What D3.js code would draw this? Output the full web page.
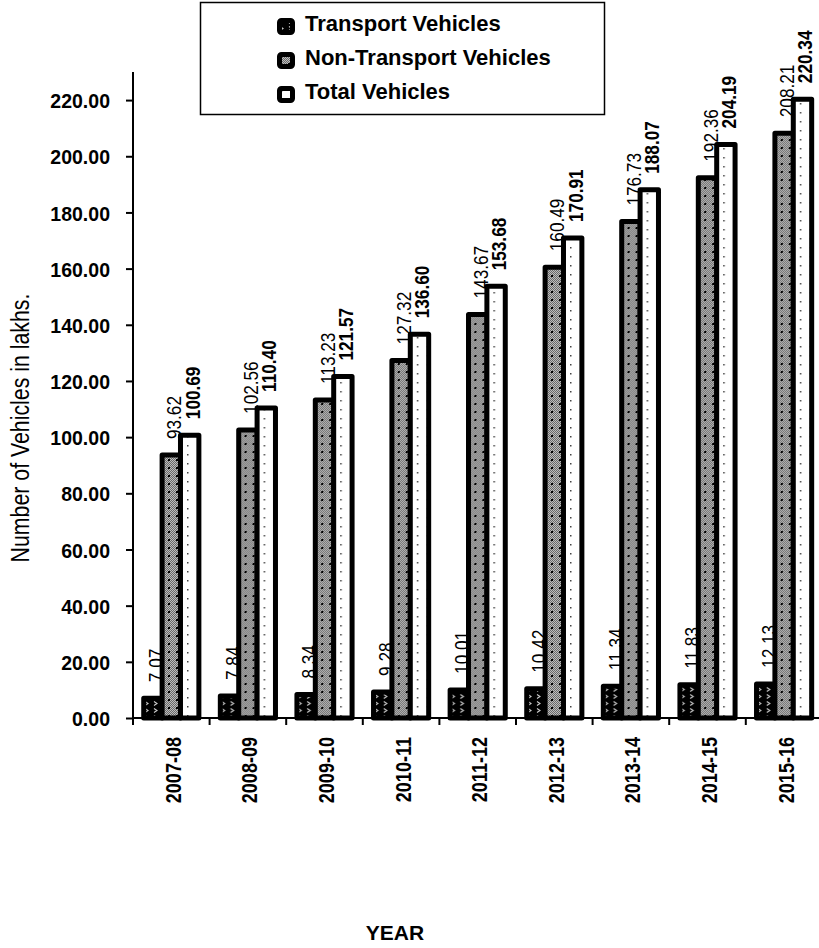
<!DOCTYPE html>
<html>
<head>
<meta charset="utf-8">
<script src="https://cdnjs.cloudflare.com/ajax/libs/d3/7.8.5/d3.min.js"></script>
<style>
  body { margin: 0; background: #fff; }
  svg { display: block; }
  text { font-family: "Liberation Sans", Arial, sans-serif; fill: #000; }
</style>
</head>
<body>
<script>

var years = ["2007-08", "2008-09", "2009-10", "2010-11", "2011-12", "2012-13", "2013-14", "2014-15", "2015-16"]
var transport = [7.07, 7.84, 8.34, 9.28, 10.01, 10.42, 11.34, 11.83, 12.13]
var nonTransport = [93.62, 102.56, 113.23, 127.32, 143.67, 160.49, 176.73, 192.36, 208.21]
var total = [100.69, 110.40, 121.57, 136.60, 153.68, 170.91, 188.07, 204.19, 220.34]
var yTicks = [0, 20, 40, 60, 80, 100, 120, 140, 160, 180, 200, 220]
var seriesNames = ["Transport Vehicles", "Non-Transport Vehicles", "Total Vehicles"]

var win_width = 819;
var win_height = 948;

var margin_left = 133;
var margin_top = 72;
var axis_y = 718;
var band = 76.6;

// squeeze factor to get a narrow face out of Liberation Sans
var narrow = 0.82;

var svg = d3.select("body").append("svg")
    .attr("width", win_width)
    .attr("height", win_height);

var fmt = d3.format(".2f");

var series = [
    {name: seriesNames[0], values: transport, fill: "url(#pat-trans)", bold: false},
    {name: seriesNames[1], values: nonTransport, fill: "url(#pat-non)", bold: false},
    {name: seriesNames[2], values: total, fill: "url(#pat-total)", bold: true}
];

function patterns() {
    var defs = svg.append("defs");

    // transport: black with little white marks
    var p1 = defs.append("pattern").attr("id", "pat-trans")
        .attr("patternUnits", "userSpaceOnUse").attr("width", 9).attr("height", 7);
    p1.append("rect").attr("width", 9).attr("height", 7).attr("fill", "#000");
    p1.append("path").attr("d", "M3,1.5 L6,3.5 L3,5.5").attr("stroke", "#ccc").attr("stroke-width", 1.1).attr("fill", "none");

    // non transport: grey checker with black dots
    var p2 = defs.append("pattern").attr("id", "pat-non")
        .attr("patternUnits", "userSpaceOnUse").attr("width", 8).attr("height", 8);
    p2.append("rect").attr("width", 8).attr("height", 8).attr("fill", "#bdbdbd");
    for (var i = 0; i < 8; i += 2) {
        for (var j = 0; j < 8; j++) {
            p2.append("rect").attr("x", i + (j % 2)).attr("y", j).attr("width", 1).attr("height", 1).attr("fill", "#6a6a6a");
        }
    }
    p2.append("rect").attr("x", 3).attr("y", 3).attr("width", 2).attr("height", 2).attr("fill", "#000");

    // total: white with sparse dots
    var p3 = defs.append("pattern").attr("id", "pat-total")
        .attr("patternUnits", "userSpaceOnUse").attr("width", 10).attr("height", 9);
    p3.append("rect").attr("width", 10).attr("height", 9).attr("fill", "#fff");
    p3.append("rect").attr("x", 4).attr("y", 4).attr("width", 1.5).attr("height", 1.5).attr("fill", "#444");
}

var xScale = d3.scaleBand().domain(years).range([margin_left, margin_left + years.length * band]);
var xInner = d3.scaleBand().domain(seriesNames)
    .range([xScale.bandwidth() * 0.14, xScale.bandwidth() * 0.86]);
var yScale = d3.scaleLinear().domain([0, 230]).range([axis_y, margin_top]);

function drawBars() {
    var groups = svg.append("g").selectAll("g")
        .data(years)
        .enter().append("g")
        .attr("transform", d => "translate(" + xScale(d) + ",0)");

    groups.selectAll("rect")
        .data((d, i) => series.map(s => ({s: s, v: s.values[i]})))
        .enter().append("rect")
        .attr("x", d => xInner(d.s.name))
        .attr("width", xInner.bandwidth())
        .attr("y", d => yScale(d.v))
        .attr("height", d => axis_y - yScale(d.v))
        .attr("fill", d => d.s.fill)
        .attr("stroke", "#000")
        .attr("stroke-width", 5)
        .attr("stroke-linejoin", "round");

    groups.selectAll("text")
        .data((d, i) => series.map(s => ({s: s, v: s.values[i]})))
        .enter().append("text")
        .attr("transform", d => "translate(" + (xInner(d.s.name) + xInner.bandwidth() / 2 + 10) + "," + (yScale(d.v) - 16) + ") rotate(-90) scale(" + narrow + ",1)")
        .style("font-size", "21px")
        .style("font-weight", d => d.s.bold ? "bold" : "normal")
        .text(d => fmt(d.v));
}

function drawAxis() {
    var yAxis = d3.axisLeft(yScale)
        .tickValues(yTicks)
        .tickFormat(fmt)
        .tickSizeOuter(0)
        .tickSize(7);

    var gy = svg.append("g")
        .attr("transform", "translate(" + margin_left + ",0)")
        .call(yAxis);
    gy.select(".domain").remove();
    gy.append("line")
        .attr("x1", 0).attr("x2", 0)
        .attr("y1", margin_top).attr("y2", axis_y + 7)
        .attr("stroke", "#000").attr("stroke-width", 2);
    gy.selectAll(".tick line").attr("stroke-width", 2);
    gy.selectAll(".tick text")
        .attr("x", 0)
        .attr("dy", "0.36em")
        .attr("transform", "translate(-23,0) scale(0.93,1)")
        .style("font-size", "21px")
        .style("font-weight", "bold")
        .attr("fill", "#000");

    // x axis: ticks between categories
    var gx = svg.append("g");
    gx.append("line")
        .attr("x1", margin_left).attr("x2", win_width)
        .attr("y1", axis_y).attr("y2", axis_y)
        .attr("stroke", "#000").attr("stroke-width", 2);
    gx.selectAll(".sep")
        .data(years)
        .enter().append("line")
        .attr("x1", d => xScale(d)).attr("x2", d => xScale(d))
        .attr("y1", axis_y).attr("y2", axis_y + 7)
        .attr("stroke", "#000").attr("stroke-width", 2);
    gx.selectAll(".lbl")
        .data(years)
        .enter().append("text")
        .attr("transform", d => "translate(" + (xScale(d) + xScale.bandwidth() / 2 + 9.5) + "," + (axis_y + 19) + ") rotate(-90) scale(" + narrow + ",1)")
        .attr("text-anchor", "end")
        .style("font-size", "22px")
        .style("font-weight", "bold")
        .text(d => d);

    svg.append("text")
        .attr("transform", "translate(29,428) rotate(-90) scale(" + narrow + ",1)")
        .attr("text-anchor", "middle")
        .style("font-size", "26px")
        .text("Number of Vehicles in lakhs.");

    svg.append("text")
        .attr("x", 395)
        .attr("y", 940)
        .attr("text-anchor", "middle")
        .style("font-size", "21px")
        .style("font-weight", "bold")
        .text("YEAR");
}

function drawLegend() {
    var g = svg.append("g");
    g.append("rect")
        .attr("x", 200.5).attr("y", 2.5)
        .attr("width", 404).attr("height", 112)
        .attr("fill", "#fff").attr("stroke", "#000").attr("stroke-width", 1.5);

    var rows = g.selectAll(".row")
        .data(series)
        .enter().append("g")
        .attr("transform", (d, i) => "translate(277," + (18 + i * 34) + ")");

    rows.append("rect")
        .attr("x", 2.5).attr("y", 2.5)
        .attr("width", 13).attr("height", 12)
        .attr("rx", 2)
        .attr("fill", d => d.fill)
        .attr("stroke", "#000")
        .attr("stroke-width", 5);

    rows.append("text")
        .attr("x", 28)
        .attr("y", 13)
        .style("font-size", "22px")
        .style("font-weight", "bold")
        .text(d => d.name);
}

patterns();
drawBars();
drawAxis();
drawLegend();

</script>
</body>
</html>
